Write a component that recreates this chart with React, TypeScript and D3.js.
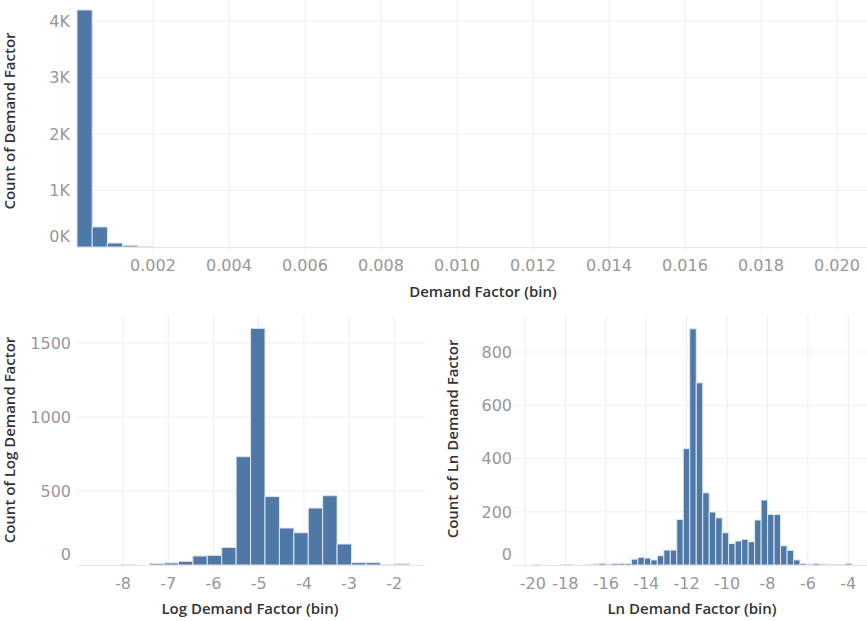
import React from 'react';
import * as d3 from 'd3';

// histogram counts, one per bin
const demandBinStart = 0;
const demandBinSize = 0.0004;
const demandCounts = [4195, 355, 70, 30, 4];
const demandTicks = [0.002, 0.004, 0.006, 0.008, 0.01, 0.012, 0.014, 0.016, 0.018, 0.02];
const demandYTicks = [0, 1000, 2000, 3000, 4000];

const logBinStart = -8.05;
const logBinSize = 0.319;
const logCounts = [1, 0, 10, 14, 25, 61, 65, 119, 732, 1599, 462, 250, 218, 385, 468, 142, 16, 16, 1, 8];
const logTicks = [-8, -7, -6, -5, -4, -3, -2];
const logYTicks = [0, 500, 1000, 1500];

const lnBinStart = -19.55;
const lnBinSize = 0.321;
const lnCounts = [
  1, 0, 0, 0, 1, 1, 0, 0, 1,
  4, 6, 4, 6, 6, 6, 22, 29, 26, 19, 35, 56, 56,
  171, 437, 887, 684, 271, 199, 177, 121, 81, 90, 96, 87, 169, 244, 190, 190, 72, 55, 19, 6, 4, 6, 4, 1, 1, 1, 6,
];
const lnTicks = [-20, -18, -16, -14, -12, -10, -8, -6, -4];
const lnYTicks = [0, 200, 400, 600, 800];

const BAR = '#4e79a7';
const GRID = '#f0f0f0';
const TICK_FONT = '"DejaVu Sans", sans-serif';
const TITLE_FONT = '"Open Sans", sans-serif';

type HistProps = {
  counts: number[];
  binStart: number;
  binSize: number;
  xDomain: [number, number];
  xRange: [number, number];
  yDomain: [number, number];
  yRange: [number, number];
  pane: { left: number; right: number; top: number };
  xTicks: number[];
  yTicks: number[];
  xFormat: (v: number) => string;
  yFormat: (v: number) => string;
  yLabelX: number;
  xLabelY: number;
  xTitle: string;
  xTitlePos: [number, number];
  yTitle: string;
  yTitlePos: [number, number];
};

function Histogram(p: HistProps) {
  const x = d3.scaleLinear().domain(p.xDomain).range(p.xRange);
  const y = d3.scaleLinear().domain(p.yDomain).range(p.yRange);
  const base = y(0);

  const bins = p.counts
    .map((c, i) => ({ c, x0: p.binStart + i * p.binSize, x1: p.binStart + (i + 1) * p.binSize }))
    .filter(d => d.c > 0);

  return (
    <g>
      {/* grid */}
      {p.yTicks.filter(t => t > 0).map(t => (
        <line key={'gy' + t} x1={p.pane.left} x2={p.pane.right} y1={y(t)} y2={y(t)} stroke={GRID} strokeWidth={1.2} />
      ))}
      {p.xTicks.map(t => (
        <line key={'gx' + t} x1={x(t)} x2={x(t)} y1={p.pane.top} y2={base + 4} stroke={GRID} strokeWidth={1.2} />
      ))}
      <line x1={p.pane.left} x2={p.pane.right} y1={base + 0.5} y2={base + 0.5} stroke="#e8e8e8" strokeWidth={1} />

      {/* bars */}
      {bins.map((d, i) => (
        <rect
          key={i}
          x={x(d.x0)}
          y={y(d.c)}
          width={x(d.x1) - x(d.x0)}
          height={base - y(d.c)}
          fill={BAR}
          stroke="#dfe4ea"
          strokeWidth={1}
        />
      ))}

      {/* y tick labels */}
      {p.yTicks.map(t => (
        <text
          key={'ly' + t}
          x={p.yLabelX}
          y={Math.min(y(t), base - 11)}
          dy="0.36em"
          textAnchor="end"
          fontFamily={TICK_FONT}
          fontSize={16}
          fill="#979797"
        >
          {p.yFormat(t)}
        </text>
      ))}

      {/* x tick labels, nudged inside the pane at the left edge */}
      {p.xTicks.map(t => {
        const label = p.xFormat(t);
        const w = label.length * 9.2;
        let cx = x(t);
        if (cx - w / 2 < p.pane.left + 6) cx = p.pane.left + 6 + w / 2;
        return (
          <text
            key={'lx' + t}
            x={cx}
            y={p.xLabelY}
            textAnchor="middle"
            fontFamily={TICK_FONT}
            fontSize={16}
            fill="#979797"
          >
            {label}
          </text>
        );
      })}

      {/* titles */}
      <text
        x={p.xTitlePos[0]}
        y={p.xTitlePos[1]}
        textAnchor="middle"
        fontFamily={TITLE_FONT}
        fontWeight={600}
        fontSize={15}
        fill="#333"
      >
        {p.xTitle}
      </text>
      <text
        transform={`translate(${p.yTitlePos[0]},${p.yTitlePos[1]}) rotate(-90)`}
        textAnchor="middle"
        fontFamily={TITLE_FONT}
        fontWeight={600}
        fontSize={15}
        fill="#333"
      >
        {p.yTitle}
      </text>
    </g>
  );
}

export default function App() {
  const kFmt = (v: number) => `${v / 1000}K`;
  const plain = (v: number) => `${v}`;

  return (
    <svg width={867} height={621} style={{ position: 'absolute', left: 0, top: 0, background: '#fff' }}>
      <Histogram
        counts={demandCounts}
        binStart={demandBinStart}
        binSize={demandBinSize}
        xDomain={[0, 0.02]}
        xRange={[77, 837]}
        yDomain={[0, 4000]}
        yRange={[247, 21]}
        pane={{ left: 77, right: 867, top: 0 }}
        xTicks={demandTicks}
        yTicks={demandYTicks}
        xFormat={d3.format('.3f')}
        yFormat={kFmt}
        yLabelX={70}
        xLabelY={271}
        xTitle="Demand Factor (bin)"
        xTitlePos={[483, 297]}
        yTitle="Count of Demand Factor"
        yTitlePos={[15, 121]}
      />
      <Histogram
        counts={logCounts}
        binStart={logBinStart}
        binSize={logBinSize}
        xDomain={[-8, -2]}
        xRange={[123, 394.3]}
        yDomain={[0, 1500]}
        yRange={[565, 343]}
        pane={{ left: 77, right: 425, top: 315 }}
        xTicks={logTicks}
        yTicks={logYTicks}
        xFormat={plain}
        yFormat={plain}
        yLabelX={71}
        xLabelY={589}
        xTitle="Log Demand Factor (bin)"
        xTitlePos={[250, 614]}
        yTitle="Count of Log Demand Factor"
        yTitlePos={[15, 440]}
      />
      <Histogram
        counts={lnCounts}
        binStart={lnBinStart}
        binSize={lnBinSize}
        xDomain={[-20, -4]}
        xRange={[525, 848.3]}
        yDomain={[0, 800]}
        yRange={[565, 352]}
        pane={{ left: 513, right: 867, top: 315 }}
        xTicks={lnTicks}
        yTicks={lnYTicks}
        xFormat={plain}
        yFormat={plain}
        yLabelX={512}
        xLabelY={589}
        xTitle="Ln Demand Factor (bin)"
        xTitlePos={[692, 614]}
        yTitle="Count of Ln Demand Factor"
        yTitlePos={[458, 439]}
      />
    </svg>
  );
}
